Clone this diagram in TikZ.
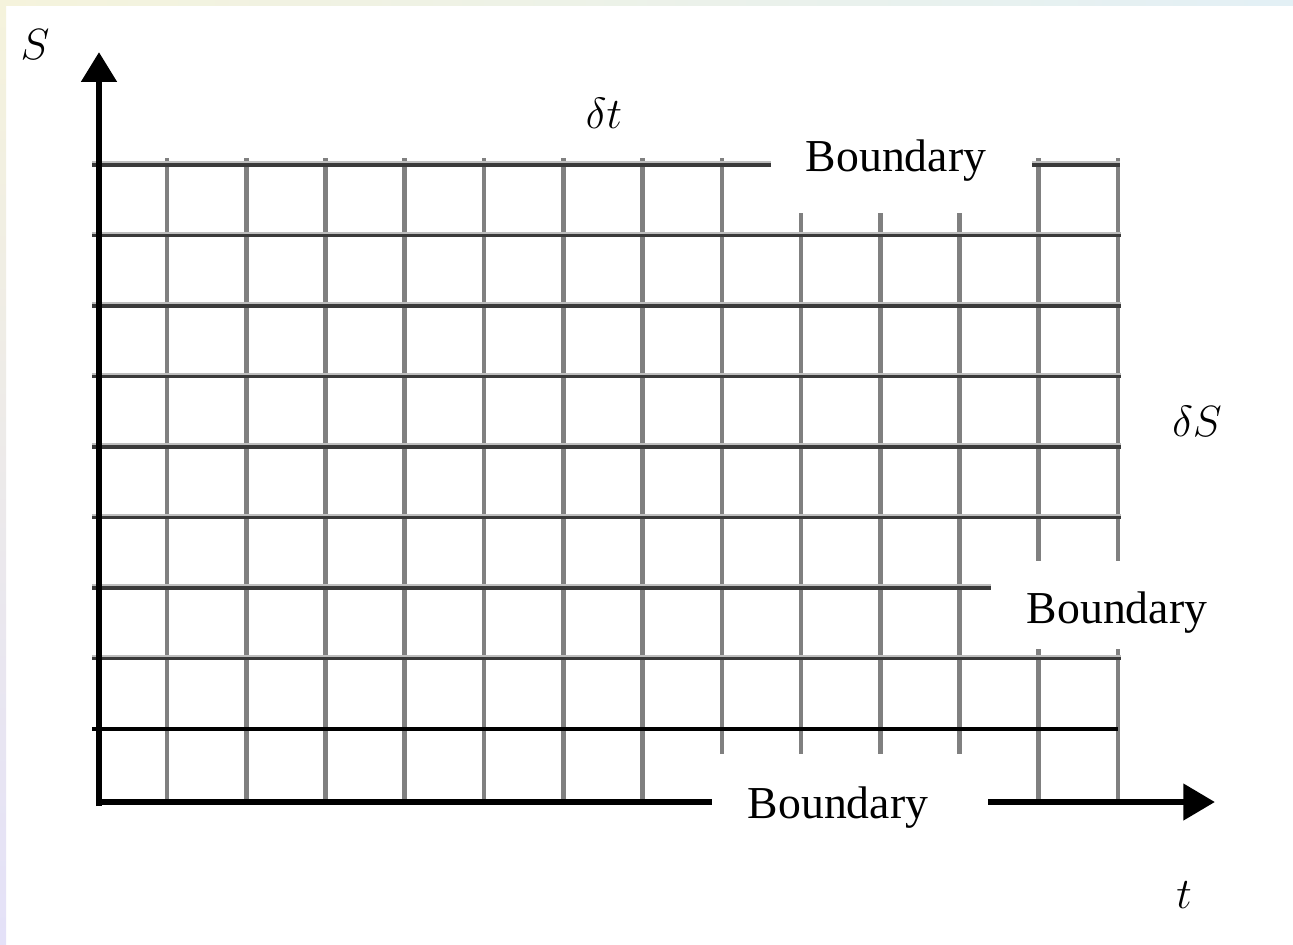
\documentclass[tikz,border=0pt]{standalone}
\usepackage{fontspec}
\setmainfont{Liberation Serif}
\usetikzlibrary{arrows.meta}
\definecolor{gridgray}{HTML}{808080}
\definecolor{griddark}{HTML}{3A3A3A}
\definecolor{gridlight}{HTML}{BEBEBE}
\definecolor{edgeyellow}{HTML}{F5F3DC}
\definecolor{edgeblue}{HTML}{D0E6EF}
\definecolor{edgelilac}{HTML}{E4E1F8}
\tikzset{
  vline/.style={draw=gridgray, line width=2.8pt},
  hline/.style={draw=griddark, line width=1.9pt},
  hshade/.style={draw=gridlight, line width=1.2pt},
  axis/.style={draw=black, line width=3.9pt},
  bndtext/.style={font=\fontsize{26}{30}\selectfont, anchor=base, inner sep=0pt},
  mathlbl/.style={font=\fontsize{33}{37}\selectfont, inner sep=0pt}
}
\begin{document}
\begin{tikzpicture}[x=0.02cm, y=-0.02cm, line cap=butt]
    \useasboundingbox (0,0) rectangle (1293,944);
    \fill[white] (0,0) rectangle (1293,944);
    % Window edges
    \shade[left color=edgeyellow, right color=edgeblue!60] (0,0) rectangle (1293,5);
    \shade[top color=edgeyellow, middle color=edgeblue, bottom color=edgelilac] (0,0) rectangle (6,944);

    % Vertical grid lines (time steps)
    \foreach \i in {0,...,6}
        \draw[vline] ({167+79.25*\i},158) -- ({167+79.25*\i},802);
    \draw[vline] (722,158) -- (722,754);
    \foreach \i in {8,9,10}
        \draw[vline] ({167+79.25*\i},213) -- ({167+79.25*\i},754);
    \foreach \i in {11,12} {
        \draw[vline] ({167+79.25*\i},158) -- ({167+79.25*\i},561);
        \draw[vline] ({167+79.25*\i},649) -- ({167+79.25*\i},802);
    }

    % Horizontal grid lines (price steps)
    \foreach \j/\xa in {1/1121,2/1121,3/1121,4/1121,5/1121,6/991,7/1121} {
        \draw[hshade] (92,{165+70.5*\j-2.6}) -- (\xa,{165+70.5*\j-2.6});
        \draw[hline] (92,{165+70.5*\j}) -- (\xa,{165+70.5*\j});
    }
    \draw[hshade] (92,162.4) -- (771,162.4);
    \draw[hline] (92,165) -- (771,165);
    \draw[hshade] (1032,162.4) -- (1120,162.4);
    \draw[hline] (1032,165) -- (1120,165);
    \draw[draw=black, line width=1.8pt] (92,729) -- (1118,729);

    % Axes
    \coordinate (origin) at (99,806);
    \coordinate (stop) at (99,52);
    \coordinate (tgapl) at (712,802);
    \coordinate (tgapr) at (988,802);
    \coordinate (tend) at (1215,802);
    \draw[axis, -{Triangle[length=17pt, width=19.5pt]}] (origin) -- (stop);
    \draw[axis] (96,802) -- (tgapl);
    \draw[axis, -{Triangle[length=18pt, width=20pt]}] (tgapr) -- (tend);

    % Labels
    \node[mathlbl] (labS) at (35,45) {$S$};
    \node[mathlbl] (labdt) at (604,113) {$\delta t$};
    \node[mathlbl] (labdS) at (1197,421) {$\delta S$};
    \node[mathlbl] (labt) at (1184,895) {$t$};
    \node[bndtext] (bndtop) at (896,171) {Boundary};
    \node[bndtext] (bndright) at (1117,623) {Boundary};
    \node[bndtext] (bndbottom) at (838,818) {Boundary};
\end{tikzpicture}
\end{document}
